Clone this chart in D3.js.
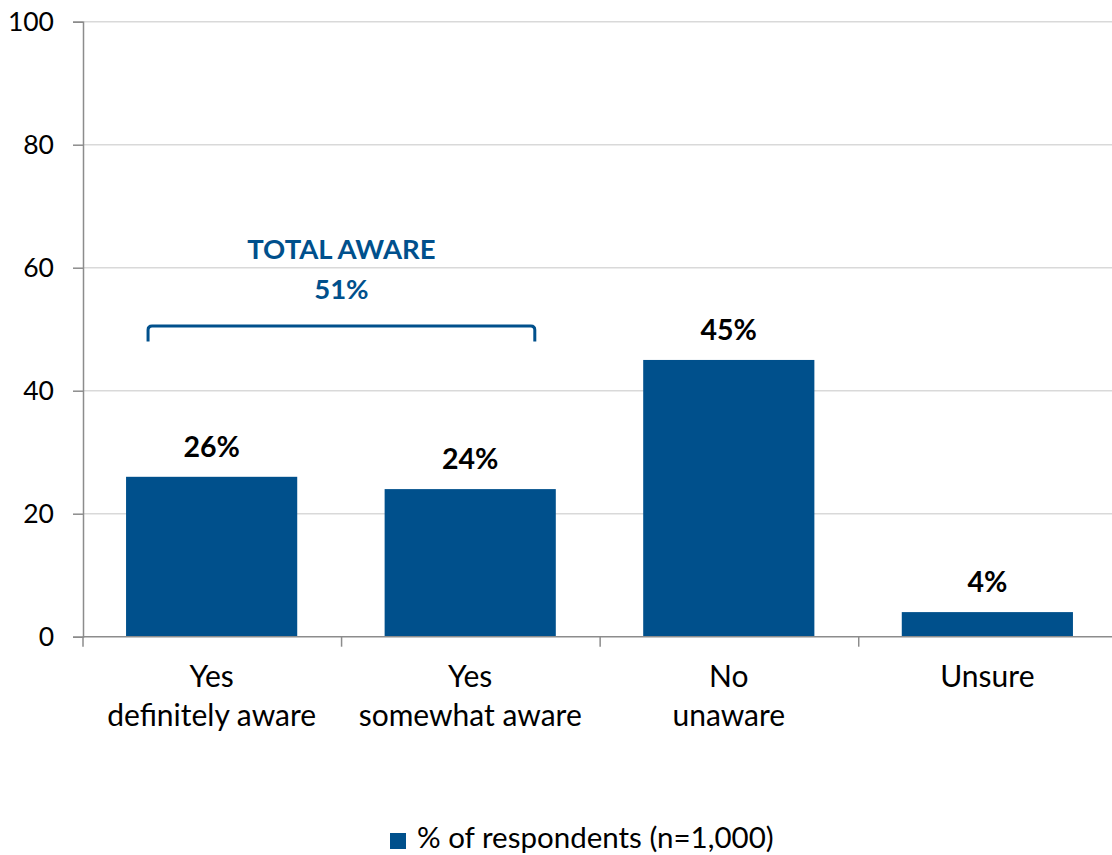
<!DOCTYPE html>
<html>
<head>
<meta charset="utf-8">
<script src="https://cdn.jsdelivr.net/npm/d3@7"></script>
<style>
  html, body { margin: 0; padding: 0; background: #fff; overflow: hidden; }
  svg { display: block; font-family: Lato, "Open Sans", sans-serif; }
</style>
</head>
<body>
<svg id="chart" width="1112" height="855"></svg>
<script>
// Awareness survey responses
const categories = [["Yes", "definitely aware"], ["Yes", "somewhat aware"], ["No", "unaware"], ["Unsure"]];
const values = [26, 24, 45, 4];
const yTicks = [0, 20, 40, 60, 80, 100];
const seriesName = "% of respondents (n=1,000)";
const totalAwareLabel = ["TOTAL AWARE", "51%"];
const totalAwareGroup = [0, 1];

const barColor = "#00508C";
const axisColor = "#8c8c8c";
const svg = d3.select("#chart");
const margin = { top: 21.7, left: 83 };
const width = 1033;
const height = 615;

const g = svg.append("g").attr("transform", `translate(${margin.left},${margin.top})`);

const x = d3.scaleBand().domain(d3.range(categories.length)).range([0, width]).paddingInner(0.338).paddingOuter(0.1665);
const y = d3.scaleLinear().domain([0, 100]).range([height, 0]);

// gridlines
g.append("g").selectAll("line").data(yTicks.filter(t => t > 0)).join("line")
  .attr("x1", 0).attr("x2", width)
  .attr("y1", d => y(d)).attr("y2", d => y(d))
  .attr("stroke", "#d9d9d9").attr("stroke-width", 1.5);

// y axis
const yAxis = g.append("g").call(d3.axisLeft(y).tickValues(yTicks).tickSize(10).tickPadding(19));
yAxis.select(".domain").attr("stroke", axisColor).attr("stroke-width", 1.5);
yAxis.selectAll(".tick line").attr("stroke", axisColor).attr("stroke-width", 1.5);
yAxis.selectAll(".tick text").attr("font-size", 26.5).attr("fill", "#000").attr("font-family", "Lato, sans-serif");

// bars
g.append("g").selectAll("rect").data(values).join("rect")
  .attr("x", (d, i) => x(i))
  .attr("y", d => y(d))
  .attr("width", x.bandwidth())
  .attr("height", d => y(0) - y(d))
  .attr("fill", barColor);

// x axis with ticks between categories
const step = x.step();
const boundaries = d3.range(categories.length + 1).map(i => i * step);
g.append("line").attr("x1", 0).attr("x2", width).attr("y1", y(0)).attr("y2", y(0))
  .attr("stroke", axisColor).attr("stroke-width", 1.5);
g.append("g").selectAll("line").data(boundaries).join("line")
  .attr("x1", d => d).attr("x2", d => d)
  .attr("y1", y(0)).attr("y2", y(0) + 10)
  .attr("stroke", axisColor).attr("stroke-width", 1.5);

// category labels
const catG = g.append("g").selectAll("text").data(categories).join("text")
  .attr("text-anchor", "middle")
  .attr("font-size", 30)
  .attr("fill", "#000")
  .attr("transform", (d, i) => `translate(${x(i) + x.bandwidth() / 2},${y(0) + 50})`);
catG.selectAll("tspan").data(d => d).join("tspan")
  .attr("x", 0).attr("dy", (d, i) => i === 0 ? 0 : 39)
  .text(d => d);

// value labels
g.append("g").selectAll("text").data(values).join("text")
  .attr("x", (d, i) => x(i) + x.bandwidth() / 2)
  .attr("y", d => y(d) - 20)
  .attr("text-anchor", "middle")
  .attr("font-size", 28.5).attr("font-weight", "bold").attr("fill", "#000")
  .text(d => d + "%");

// bracket over the "aware" group
const bx0 = x(totalAwareGroup[0]) + 22;
const bx1 = x(totalAwareGroup[1]) + x.bandwidth() - 21;
const bTop = y(50.5);
const bBottom = y(48);
const r = 4;
g.append("path")
  .attr("d", `M${bx0},${bBottom} V${bTop + r} Q${bx0},${bTop} ${bx0 + r},${bTop} H${bx1 - r} Q${bx1},${bTop} ${bx1},${bTop + r} V${bBottom}`)
  .attr("fill", "none").attr("stroke", barColor).attr("stroke-width", 3);
const bxc = (bx0 + bx1) / 2;
g.append("text").attr("x", bxc).attr("y", bTop - 67).attr("text-anchor", "middle")
  .attr("font-size", 27.5).attr("font-weight", "bold").attr("fill", barColor).text(totalAwareLabel[0]);
g.append("text").attr("x", bxc).attr("y", bTop - 27).attr("text-anchor", "middle")
  .attr("font-size", 27.5).attr("font-weight", "bold").attr("fill", barColor).text(totalAwareLabel[1]);

// legend
const legend = svg.append("g").attr("transform", "translate(390,832)");
legend.append("rect").attr("y", 1).attr("width", 16).attr("height", 16).attr("fill", barColor);
legend.append("text").attr("x", 27).attr("y", 16).attr("font-size", 29.5).attr("fill", "#000").text(seriesName);
</script>
</body>
</html>
